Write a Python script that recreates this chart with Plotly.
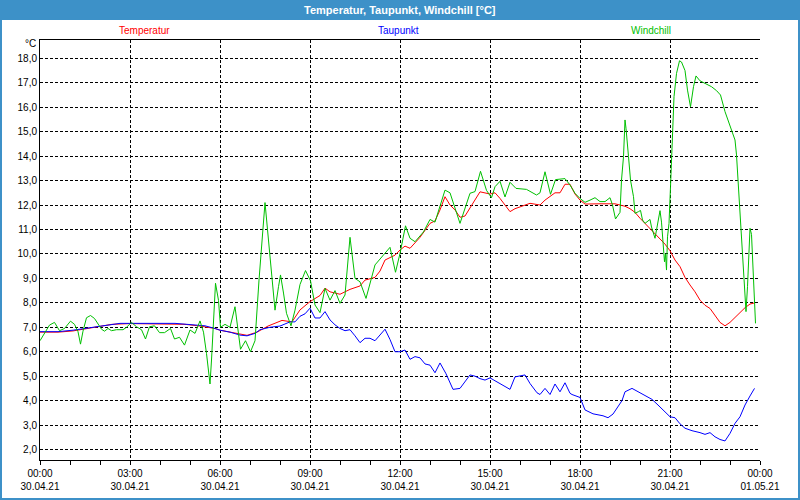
import pandas as pd
import plotly.graph_objects as go

# ---- data (minutes after 30.04.21 00:00, value in °C) ----
temp_min = [0, 36, 66, 96, 120, 144, 180, 250, 290, 320, 350, 360, 390, 414, 434, 456, 484, 504,
            520, 540, 560, 570, 580, 600, 620, 640, 650, 670, 680, 690, 710, 720, 730, 740, 760,
            780, 790, 800, 810, 820, 830, 840, 850, 860, 870, 880, 900, 910, 920, 930, 940, 950,
            960, 980, 1000, 1010, 1020, 1030, 1040, 1050, 1060, 1070, 1080, 1090, 1120, 1150,
            1160, 1170, 1180, 1190, 1200, 1210, 1220, 1230, 1240, 1250, 1260, 1270, 1280, 1290,
            1300, 1310, 1320, 1330, 1340, 1350, 1360, 1370, 1380, 1390, 1400, 1410, 1420, 1430]
temp_val = [6.80, 6.80, 6.85, 6.95, 7.05, 7.12, 7.15, 7.15, 7.12, 7.05, 6.95, 6.88, 6.75, 6.67,
            6.80, 7.05, 7.28, 7.22, 7.71, 8.05, 8.30, 8.60, 8.45, 8.35, 8.55, 8.69, 8.93, 9.04,
            9.30, 9.75, 9.95, 10.16, 10.32, 10.23, 10.68, 11.25, 11.35, 11.80, 12.34, 12.00,
            11.80, 11.50, 11.55, 11.90, 12.20, 12.54, 12.45, 12.50, 12.27, 12.00, 11.73, 11.85,
            11.93, 12.07, 12.00, 12.20, 12.35, 12.50, 12.50, 12.85, 12.85, 12.45, 12.20, 12.04,
            12.05, 12.05, 12.00, 11.95, 11.85, 11.70, 11.46, 11.25, 11.05, 10.80, 10.60, 10.40,
            10.13, 9.75, 9.48, 9.04, 8.73, 8.45, 8.11, 7.90, 7.77, 7.50, 7.20, 7.06, 7.20, 7.40,
            7.60, 7.80, 7.95, 8.00]

dew_min = [0, 36, 66, 90, 106, 120, 140, 160, 270, 290, 330, 350, 360, 380, 400, 414, 430, 440,
           460, 480, 500, 510, 520, 530, 540, 550, 560, 570, 580, 590, 600, 610, 620, 630, 640,
           650, 660, 670, 680, 690, 700, 710, 720, 730, 740, 750, 760, 770, 780, 790, 800, 812,
           826, 840, 860, 870, 880, 890, 900, 920, 940, 950, 970, 980, 994, 1000, 1010, 1020,
           1030, 1040, 1050, 1060, 1064, 1080, 1090, 1106, 1126, 1136, 1146, 1164, 1170, 1184,
           1196, 1210, 1224, 1236, 1250, 1260, 1270, 1280, 1290, 1304, 1320, 1330, 1340, 1350,
           1360, 1370, 1380, 1390, 1400, 1410, 1420, 1429]
dew_val = [6.82, 6.82, 6.88, 6.95, 7.00, 7.06, 7.12, 7.16, 7.16, 7.12, 7.06, 6.95, 6.88, 6.80,
           6.68, 6.65, 6.75, 6.90, 7.00, 7.05, 7.22, 7.22, 7.45, 7.55, 7.78, 7.38, 7.38, 7.64,
           7.30, 7.10, 6.95, 6.86, 6.90, 6.65, 6.37, 6.55, 6.55, 6.45, 6.70, 6.92, 6.50, 6.00,
           6.00, 6.07, 5.69, 5.80, 5.75, 5.50, 5.45, 5.14, 5.54, 5.10, 4.46, 4.50, 5.05, 5.00,
           4.90, 4.84, 4.93, 4.70, 4.46, 4.97, 5.05, 4.70, 4.32, 4.25, 4.50, 4.25, 4.68, 4.36,
           4.73, 4.30, 4.25, 4.13, 3.62, 3.46, 3.38, 3.30, 3.45, 4.00, 4.36, 4.50, 4.36, 4.18,
           4.05, 3.82, 3.55, 3.34, 3.30, 3.05, 2.87, 2.77, 2.69, 2.62, 2.69, 2.52, 2.41, 2.35,
           2.66, 3.07, 3.34, 3.82, 4.19, 4.50]

wc_min = [0, 8, 19, 29, 39, 49, 61, 69, 76, 81, 86, 93, 101, 109, 116, 123, 129, 136, 143, 153,
          166, 173, 183, 193, 203, 211, 219, 229, 239, 249, 261, 269, 279, 289, 300, 310, 320,
          327, 333, 340, 343, 347, 351, 357, 361, 370, 380, 390, 401, 411, 421, 430, 438, 450,
          460, 470, 477, 481, 487, 493, 502, 510, 520, 531, 541, 550, 560, 570, 580, 590, 600,
          610, 620, 630, 640, 652, 670, 683, 700, 711, 720, 731, 740, 750, 767, 780, 790, 810,
          820, 840, 860, 870, 881, 893, 903, 910, 920, 930, 940, 952, 973, 993, 1000, 1010,
          1021, 1031, 1050, 1060, 1070, 1080, 1090, 1100, 1110, 1120, 1130, 1140, 1145, 1151,
          1160, 1163, 1167, 1170, 1172, 1177, 1181, 1187, 1190, 1197, 1201, 1205, 1210, 1220,
          1223, 1230, 1233, 1240, 1243, 1247, 1249, 1251, 1253, 1255, 1258, 1261, 1265, 1268,
          1273, 1279, 1283, 1290, 1295, 1301, 1307, 1312, 1320, 1333, 1343, 1353, 1361, 1370,
          1380, 1390, 1393, 1397, 1401, 1405, 1410, 1412, 1415, 1417, 1420, 1423, 1425, 1429,
          1431]
wc_val = [6.45, 6.70, 7.09, 7.20, 6.86, 6.95, 7.25, 7.12, 6.82, 6.31, 6.84, 7.39, 7.48, 7.36,
          7.12, 6.92, 6.84, 6.95, 6.86, 6.90, 6.90, 7.00, 7.20, 7.02, 6.90, 6.52, 7.02, 7.06,
          6.78, 6.78, 6.95, 6.52, 6.59, 6.27, 6.89, 6.75, 7.26, 6.80, 5.93, 4.68, 5.66, 7.30,
          8.80, 8.10, 7.00, 7.12, 7.00, 7.84, 6.10, 6.45, 6.00, 6.45, 8.93, 12.10, 9.75, 7.70,
          8.66, 9.14, 8.40, 7.57, 7.06, 7.70, 8.75, 9.32, 8.90, 7.91, 7.60, 8.59, 8.11, 8.50,
          7.98, 8.32, 10.68, 9.00, 8.86, 8.18, 9.55, 9.88, 10.27, 9.25, 10.02, 11.15, 10.64,
          10.50, 10.90, 11.41, 11.30, 12.61, 12.50, 11.25, 12.48, 12.55, 13.38, 12.60, 12.30,
          12.75, 12.97, 12.33, 12.93, 12.68, 12.64, 12.41, 12.50, 13.36, 12.44, 13.04, 13.08,
          12.82, 12.48, 12.27, 12.11, 12.20, 12.30, 12.14, 12.14, 12.30, 12.00, 11.43, 11.70,
          13.02, 13.98, 15.48, 15.14, 13.98, 13.02, 12.34, 11.66, 11.73, 11.78, 11.39, 11.25,
          11.41, 11.10, 10.64, 11.00, 11.77, 11.30, 10.23, 9.68, 10.00, 9.34, 10.70, 11.25,
          12.75, 14.66, 16.43, 17.38, 17.90, 17.85, 17.50, 16.70, 16.02, 16.84, 17.28, 17.08,
          16.94, 16.84, 16.68, 16.50, 15.82, 15.27, 14.66, 14.05, 12.61, 11.11, 9.89, 8.39,
          7.64, 8.66, 9.75, 11.05, 10.80, 9.90, 8.25, 7.16]

series_names = ["Temperatur", "Taupunkt", "Windchill"]
series_colors = ["#ff0000", "#0000ff", "#00c000"]
title_text = "<b>Temperatur, Taupunkt, Windchill [°C]</b>"
unit_text = "°C"

base = pd.Timestamp("2021-04-30 00:00")
def to_time(mins):
    return [base + pd.Timedelta(minutes=m) for m in mins]

# ---- layout helpers (pixel -> paper) ----
L, R, T, B = 40, 40, 40, 40
W, H = 800, 500
PW, PH = W - L - R, H - T - B
def px(x):
    return (x - L) / PW
def py(y):
    return (H - B - y) / PH

fig = go.Figure()
for mins, vals, name, col in [(temp_min, temp_val, series_names[0], series_colors[0]),
                              (dew_min, dew_val, series_names[1], series_colors[1]),
                              (wc_min, wc_val, series_names[2], series_colors[2])]:
    fig.add_trace(go.Scatter(x=to_time(mins), y=vals, mode="lines", name=name,
                             line=dict(color=col, width=1), showlegend=False))

font_main = "Liberation Sans, Arial, sans-serif"
frame_col = "#3d91c8"

shapes = [
    dict(type="rect", xref="paper", yref="paper", x0=px(0), x1=px(800), y0=py(20), y1=py(0),
         fillcolor=frame_col, line=dict(width=0), layer="below"),
    dict(type="rect", xref="paper", yref="paper", x0=px(1), x1=px(799), y0=py(499), y1=py(10),
         fillcolor="rgba(0,0,0,0)", line=dict(color=frame_col, width=2), layer="below"),
]

annotations = [
    dict(text=title_text, xref="paper", yref="paper", x=px(400), y=py(10), showarrow=False,
         xanchor="center", yanchor="middle", font=dict(family=font_main, size=11, color="white")),
    dict(text=unit_text, xref="paper", yref="paper", x=px(38), y=py(44), showarrow=False,
         xanchor="right", yanchor="middle", font=dict(family=font_main, size=10, color="black")),
]
for name, col, xc in zip(series_names, series_colors, [144, 398, 651]):
    annotations.append(dict(text=name, xref="paper", yref="paper", x=px(xc), y=py(30),
                            showarrow=False, xanchor="center", yanchor="middle",
                            font=dict(family=font_main, size=10, color=col)))

fig.update_layout(
    template="none",
    width=W, height=H,
    margin=dict(l=L, r=R, t=T, b=B, pad=0, autoexpand=False),
    paper_bgcolor="white", plot_bgcolor="white",
    separators=",.",
    font=dict(family=font_main, size=10, color="black"),
    shapes=shapes, annotations=annotations,
    hovermode=False,
)
fig.update_xaxes(
    type="date", automargin=False,
    range=[base, base + pd.Timedelta(hours=24)],
    tick0=base, dtick=3 * 3600 * 1000,
    tickformat="%H:%M<br>%d.%m.%y",
    showgrid=True, gridcolor="black", griddash="3px,2px", gridwidth=1,
    showline=True, linecolor="black", linewidth=1, mirror=True,
    ticks="outside", ticklen=4, tickcolor="black", tickwidth=1,
    minor=dict(dtick=3600 * 1000, ticks="outside", ticklen=4, tickcolor="black", showgrid=False),
    zeroline=False,
    tickfont=dict(family=font_main, size=10, color="black"),
)
fig.update_yaxes(
    automargin=False,
    range=[1.571, 18.75], tick0=0, dtick=1, tickformat=".1f",
    showgrid=True, gridcolor="black", griddash="3px,2px", gridwidth=1,
    showline=True, linecolor="black", linewidth=1, mirror=False,
    ticks="", zeroline=False,
    tickfont=dict(family=font_main, size=10, color="black"),
)

fig.write_html("out.html", config={"displayModeBar": False},
               post_script="document.body.style.margin='0';document.body.style.overflow='hidden';")
